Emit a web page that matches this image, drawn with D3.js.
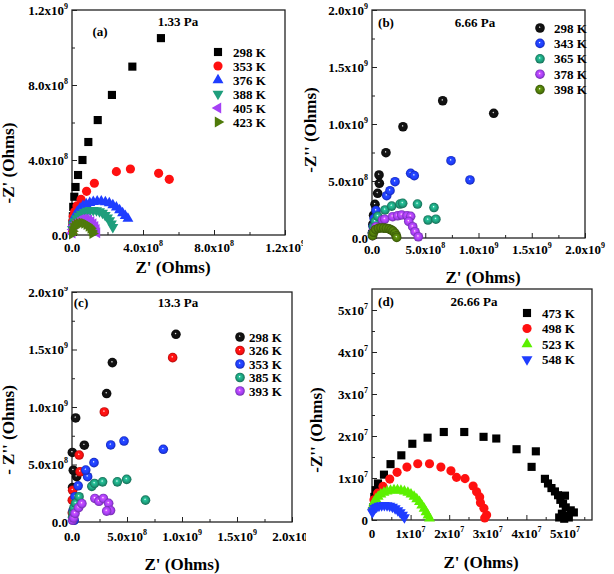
<!DOCTYPE html>
<html>
<head>
<meta charset="utf-8">
<script src="https://cdn.jsdelivr.net/npm/d3@7"></script>
<style>
body { margin: 0; background: #fff; }
text { font-family: "Liberation Serif", "Times New Roman", serif; font-weight: bold; fill: #000; }
</style>
</head>
<body>
<svg id="fig" width="614" height="574"></svg>
<script>
// ---- data: [Z', -Z''] ----
// panels a, b, c in units of 1e8 Ohms, panel d in units of 1e6 Ohms

// (a) 1.33 Pa
var a298 = [[0.02,0.25],[0.03,0.6],[0.05,1.0],[0.07,1.5],[0.13,2.04],[0.2,2.56],[0.34,3.2],[0.59,4.0],[0.92,4.96],[1.45,6.13],[2.25,7.47],[3.4,8.98],[5.01,10.5]];
var a353 = [[0.02,0.15],[0.03,0.45],[0.05,0.75],[0.07,1.0],[0.15,1.24],[0.28,1.55],[0.51,1.9],[0.82,2.33],[1.26,2.76],[2.5,3.38],[3.29,3.52],[4.88,3.29],[5.48,2.97]];
var a376 = [[0.05,0.6],[0.1,0.85],[0.18,1.05],[0.3,1.25],[0.45,1.42],[0.62,1.55],[0.8,1.65],[1.0,1.72],[1.2,1.77],[1.42,1.79],[1.65,1.79],[1.88,1.76],[2.1,1.7],[2.3,1.6],[2.5,1.47],[2.68,1.33],[2.85,1.17],[3.0,1.02],[3.15,0.88]];
var a388 = [[0.03,0.3],[0.08,0.55],[0.15,0.72],[0.25,0.88],[0.38,1.02],[0.52,1.13],[0.68,1.22],[0.85,1.28],[1.02,1.32],[1.2,1.33],[1.38,1.31],[1.55,1.26],[1.72,1.18],[1.87,1.06],[2.0,0.93],[2.12,0.78],[2.22,0.6],[2.3,0.42]];
var a405 = [[0.02,0.1],[0.05,0.3],[0.12,0.5],[0.22,0.65],[0.35,0.76],[0.5,0.83],[0.65,0.86],[0.8,0.85],[0.95,0.8],[1.08,0.72],[1.2,0.6],[1.3,0.45],[1.37,0.3],[1.41,0.12]];
var a423 = [[0.01,0.05],[0.03,0.2],[0.08,0.38],[0.16,0.5],[0.27,0.58],[0.4,0.62],[0.55,0.64],[0.7,0.62],[0.83,0.56],[0.95,0.47],[1.05,0.36],[1.12,0.22],[1.16,0.08]];

// (b) 6.66 Pa
var b298 = [[0.05,0.5],[0.08,1.2],[0.15,2.0],[0.28,2.95],[0.53,3.92],[0.69,4.8],[0.66,5.53],[1.31,7.48],[2.91,9.76],[6.64,12.04],[11.43,10.94]];
var b343 = [[0.05,0.4],[0.1,1.0],[0.2,1.7],[0.38,2.4],[1.38,3.71],[1.69,4.15],[2.16,4.94],[3.63,5.67],[3.97,5.47],[7.42,6.78],[9.2,5.09]];
var b365 = [[0.05,0.4],[0.15,1.0],[0.3,1.45],[0.55,1.9],[1.22,2.46],[1.85,2.8],[2.63,2.98],[2.88,3.04],[4.27,2.98],[5.82,2.67],[5.26,1.58],[6.0,1.65]];
var b378 = [[0.05,0.2],[0.15,0.6],[0.38,0.99],[1.0,1.58],[1.2,1.65],[1.94,1.87],[2.4,1.95],[2.79,2.02],[3.3,1.95],[3.63,1.9],[3.45,1.45],[3.82,0.99],[4.04,0.55],[4.35,0.11]];
var b398 = [[0.05,0.2],[0.15,0.5],[0.35,0.75],[0.6,0.85],[0.85,0.88],[1.1,0.87],[1.35,0.85],[1.6,0.8],[1.8,0.72],[1.98,0.6],[2.15,0.42],[2.28,0.2],[2.32,0.05]];

// (c) 13.3 Pa
var c298 = [[0.05,3.0],[0.42,3.94],[0.12,4.5],[0.03,6.05],[1.12,6.68],[0.33,9.05],[3.15,11.17],[3.67,13.86],[9.45,16.32]];
var c326 = [[0.03,0.8],[0.03,1.9],[0.06,2.76],[0.73,4.37],[0.65,5.82],[2.94,9.57],[9.15,14.29]];
var c353 = [[0.2,0.15],[0.1,1.0],[0.27,2.2],[0.56,3.15],[1.42,3.94],[1.25,4.52],[2.0,5.16],[3.52,6.7],[4.73,7.04],[8.3,6.32]];
var c385 = [[0.05,0.4],[0.1,0.8],[0.18,1.25],[0.33,1.63],[0.64,2.2],[1.8,3.1],[2.05,3.35],[2.78,3.49],[4.12,3.49],[4.97,3.71],[6.68,1.9]];
var c393 = [[0.05,0.15],[0.15,0.35],[0.27,0.75],[0.6,1.25],[0.9,1.6],[2.08,2.05],[2.45,1.8],[2.85,2.05],[3.33,1.62],[3.5,1.0],[3.15,0.95]];

// (d) 26.66 Pa
var d473 = [[0.3,3.0],[0.6,5.5],[0.95,7.1],[1.55,8.7],[3.1,10.8],[4.8,13.3],[7.6,15.4],[10.45,18.15],[14.4,19.6],[18.6,20.95],[23.9,20.95],[28.9,19.8],[32.2,19.4],[37.45,16.85],[42.45,16.35],[41.35,12.65],[44.8,9.8],[45.6,8.7],[46.5,7.6],[47.4,6.8],[48.2,5.9],[50.0,5.8],[48.8,4.8],[49.5,3.9],[50.2,3.0],[51.5,2.3],[52.3,1.8],[49.2,1.5],[50.5,1.0],[48.5,0.6],[49.8,0.3],[51.0,0.6]];
var d498 = [[0.2,2.5],[0.5,4.8],[1.45,6.4],[2.85,8.0],[4.6,9.75],[6.5,11.35],[9.05,12.6],[11.85,13.4],[14.9,13.4],[17.85,12.6],[20.45,11.7],[21.9,10.15],[24.1,9.85],[26.2,8.1],[27.1,6.7],[27.9,5.5],[28.1,4.1],[29.0,2.8],[29.7,1.2],[29.2,0.5]];
var d523 = [[0.2,3.3],[0.5,4.2],[1.0,5.0],[1.6,5.6],[2.3,6.1],[3.1,6.5],[3.9,6.8],[4.8,7.0],[5.7,7.1],[6.6,7.1],[7.5,7.0],[8.4,6.8],[9.3,6.5],[10.1,6.1],[10.9,5.6],[11.6,5.0],[12.3,4.3],[12.9,3.5],[13.5,2.7],[14.0,1.9],[14.5,1.1],[14.9,0.4]];
var d548 = [[0.1,1.8],[0.3,2.3],[0.7,2.8],[1.2,3.1],[1.8,3.35],[2.5,3.5],[3.2,3.55],[3.9,3.5],[4.6,3.35],[5.3,3.1],[6.0,2.75],[6.7,2.3],[7.3,1.8],[7.9,1.2],[8.4,0.6]];

// ---- ticks ----
var aTicks = [0, 4, 8, 12];
var aMinor = [2, 6, 10];
var aTickText = [["0.0",""],["4.0x10","8"],["8.0x10","8"],["1.2x10","9"]];
var bcTicks = [0, 5, 10, 15, 20];
var bcMinor = [2.5, 7.5, 12.5, 17.5];
var bcTickText = [["0.0",""],["5.0x10","8"],["1.0x10","9"],["1.5x10","9"],["2.0x10","9"]];
var dTicks = [0, 10, 20, 30, 40, 50];
var dMinor = [5, 15, 25, 35, 45, 55];
var dTickText = [["0",""],["1x10","7"],["2x10","7"],["3x10","7"],["4x10","7"],["5x10","7"]];

var svg = d3.select("#fig");
var defs = svg.append("defs");

// shiny sphere fills
var gradIds = {};
function sphereFill(c) {
    if (gradIds[c]) return "url(#" + gradIds[c] + ")";
    var id = "sph" + Object.keys(gradIds).length;
    var gr = defs.append("radialGradient").attr("id", id)
        .attr("cx", "50%").attr("cy", "50%").attr("r", "55%")
        .attr("fx", "45%").attr("fy", "40%");
    gr.append("stop").attr("offset", "0%").attr("stop-color", "#ffffff");
    gr.append("stop").attr("offset", "22%").attr("stop-color", d3.color(c).brighter(0.6));
    gr.append("stop").attr("offset", "60%").attr("stop-color", c);
    gr.append("stop").attr("offset", "100%").attr("stop-color", d3.color(c).darker(1.4));
    gradIds[c] = id;
    return "url(#" + id + ")";
}

function drawMarker(g, shape, color, px, py) {
    if (shape === "sphere") {
        g.append("circle").attr("cx", px).attr("cy", py).attr("r", 4.8)
            .attr("fill", sphereFill(color));
        return;
    }
    var type = d3.symbolSquare, rot = 0, size = 66;
    if (shape === "circle") { type = d3.symbolCircle; size = 66; }
    if (shape === "up") { type = d3.symbolTriangle; size = 52; }
    if (shape === "down") { type = d3.symbolTriangle; size = 52; rot = 180; }
    if (shape === "left") { type = d3.symbolTriangle; size = 52; rot = -90; }
    if (shape === "right") { type = d3.symbolTriangle; size = 52; rot = 90; }
    g.append("path")
        .attr("d", d3.symbol().type(type).size(size)())
        .attr("transform", `translate(${px},${py}) rotate(${rot})`)
        .attr("fill", color);
}

function supText(g, x, y, parts, anchor) {
    var t = g.append("text").attr("x", x).attr("y", y)
        .attr("text-anchor", anchor).attr("font-size", 13);
    t.append("tspan").text(parts[0]);
    if (parts[1]) t.append("tspan").attr("dy", -6).attr("font-size", 8).text(parts[1]);
}

function drawPanel(p) {
    defs.append("clipPath").attr("id", p.id + "clip")
        .append("rect").attr("x", p.clip[0]).attr("y", p.clip[1])
        .attr("width", p.clip[2]).attr("height", p.clip[3]);
    var g = svg.append("g").attr("clip-path", `url(#${p.id}clip)`);

    var x = d3.scaleLinear().domain(p.xDomain).range([p.left, p.right]);
    var y = d3.scaleLinear().domain(p.yDomain).range([p.bottom, p.top]);

    // inward ticks
    var gx = g.append("g").attr("transform", `translate(0,${p.bottom})`)
        .call(d3.axisBottom(x).tickValues(p.ticks).tickSize(-5).tickFormat(""));
    var gxm = g.append("g").attr("transform", `translate(0,${p.bottom})`)
        .call(d3.axisBottom(x).tickValues(p.minor.filter(v => v < p.xDomain[1])).tickSize(-3).tickFormat(""));
    var gy = g.append("g").attr("transform", `translate(${p.left},0)`)
        .call(d3.axisLeft(y).tickValues(p.ticks).tickSize(-5).tickFormat(""));
    var gym = g.append("g").attr("transform", `translate(${p.left},0)`)
        .call(d3.axisLeft(y).tickValues(p.minor.filter(v => v < p.yDomain[1])).tickSize(-3).tickFormat(""));
    [gx, gxm, gy, gym].forEach(function(a) {
        a.select(".domain").remove();
        a.selectAll("line").attr("stroke", "#222").attr("stroke-width", 1);
    });

    g.append("rect").attr("x", p.left).attr("y", p.top)
        .attr("width", p.right - p.left).attr("height", p.bottom - p.top)
        .attr("fill", "none").attr("stroke", "#222").attr("stroke-width", 1.3);

    p.ticks.forEach(function(v, i) {
        if (v <= p.xDomain[1]) supText(g, x(v), p.bottom + p.xLabelGap, p.tickText[i], "middle");
        if (v <= p.yDomain[1]) supText(g, p.left - 4, y(v) + 4.5, p.tickText[i], "end");
    });

    // data
    p.series.forEach(function(s) {
        s.data.forEach(function(d) {
            drawMarker(g, s.shape, s.color, x(d[0]), y(d[1]));
        });
    });

    // legend
    p.series.forEach(function(s, i) {
        var ly = p.legend.y0 + i * p.legend.dy;
        drawMarker(g, s.shape, s.color, p.legend.mx, ly);
        g.append("text").attr("x", p.legend.tx).attr("y", ly + 4.5)
            .attr("font-size", 13).text(s.name);
    });

    g.append("text").attr("x", p.tag[0]).attr("y", p.tag[1])
        .attr("font-size", 13).attr("text-anchor", "middle").text(p.tagText);
    g.append("text").attr("x", p.title[0]).attr("y", p.title[1])
        .attr("font-size", 13).attr("text-anchor", "middle").text(p.titleText);

    g.append("text").attr("x", p.xTitle[0]).attr("y", p.xTitle[1])
        .attr("font-size", 17).attr("text-anchor", "middle").text("Z' (Ohms)");
    g.append("text")
        .attr("transform", `translate(${p.yTitle[0]},${p.yTitle[1]}) rotate(-90)`)
        .attr("font-size", 17).attr("text-anchor", "middle").text(p.yTitleText);
}

drawPanel({
    id: "a", clip: [0, 0, 303, 287],
    left: 72, right: 285, top: 10, bottom: 235,
    xDomain: [0, 12], yDomain: [0, 12],
    ticks: aTicks, minor: aMinor, tickText: aTickText, xLabelGap: 17,
    series: [
        {name: "298 K", data: a298, shape: "square", color: "#000000"},
        {name: "353 K", data: a353, shape: "circle", color: "#ff1010"},
        {name: "376 K", data: a376, shape: "up", color: "#1f3dff"},
        {name: "388 K", data: a388, shape: "down", color: "#1e9e7c"},
        {name: "405 K", data: a405, shape: "left", color: "#a540f5"},
        {name: "423 K", data: a423, shape: "right", color: "#4f7a0a"}
    ],
    legend: {mx: 218, tx: 233, y0: 52, dy: 14},
    tag: [100, 36], tagText: "(a)",
    title: [178, 26], titleText: "1.33 Pa",
    xTitle: [173, 273], yTitle: [14, 163], yTitleText: "-Z' (Ohms)"
});

drawPanel({
    id: "b", clip: [300, 0, 314, 287],
    left: 372, right: 585, top: 10, bottom: 238,
    xDomain: [0, 20], yDomain: [0, 20],
    ticks: bcTicks, minor: bcMinor, tickText: bcTickText, xLabelGap: 16,
    series: [
        {name: "298 K", data: b298, shape: "sphere", color: "#111111"},
        {name: "343 K", data: b343, shape: "sphere", color: "#1f3dff"},
        {name: "365 K", data: b365, shape: "sphere", color: "#1e9e7c"},
        {name: "378 K", data: b378, shape: "sphere", color: "#a540f5"},
        {name: "398 K", data: b398, shape: "sphere", color: "#4f7a0a"}
    ],
    legend: {mx: 540, tx: 554, y0: 28, dy: 15.4},
    tag: [386, 27], tagText: "(b)",
    title: [475, 27], titleText: "6.66 Pa",
    xTitle: [483, 283], yTitle: [316, 130], yTitleText: "-Z'' (Ohms)"
});

drawPanel({
    id: "c", clip: [0, 287, 306, 287],
    left: 72, right: 292, top: 292, bottom: 522,
    xDomain: [0, 20], yDomain: [0, 20],
    ticks: bcTicks, minor: bcMinor, tickText: bcTickText, xLabelGap: 19,
    series: [
        {name: "298 K", data: c298, shape: "sphere", color: "#111111"},
        {name: "326 K", data: c326, shape: "sphere", color: "#ff1010"},
        {name: "353 K", data: c353, shape: "sphere", color: "#1f3dff"},
        {name: "385 K", data: c385, shape: "sphere", color: "#1e9e7c"},
        {name: "393 K", data: c393, shape: "sphere", color: "#a540f5"}
    ],
    legend: {mx: 240, tx: 249, y0: 337, dy: 13.5},
    tag: [81, 307], tagText: "(c)",
    title: [178, 307], titleText: "13.3 Pa",
    xTitle: [182, 570], yTitle: [14, 430], yTitleText: "- Z'' (Ohms)"
});

drawPanel({
    id: "d", clip: [306, 287, 308, 287],
    left: 372, right: 592, top: 289, bottom: 520,
    xDomain: [0, 57], yDomain: [0, 55],
    ticks: dTicks, minor: dMinor, tickText: dTickText, xLabelGap: 18,
    series: [
        {name: "473 K", data: d473, shape: "square", color: "#000000"},
        {name: "498 K", data: d498, shape: "circle", color: "#ff1010"},
        {name: "523 K", data: d523, shape: "up", color: "#5cf000"},
        {name: "548 K", data: d548, shape: "down", color: "#1f3dff"}
    ],
    legend: {mx: 527, tx: 542, y0: 313, dy: 15.5},
    tag: [386, 306], tagText: "(d)",
    title: [474, 306], titleText: "26.66 Pa",
    xTitle: [481, 568], yTitle: [322, 430], yTitleText: "-Z'' (Ohms)"
});
</script>
</body>
</html>
